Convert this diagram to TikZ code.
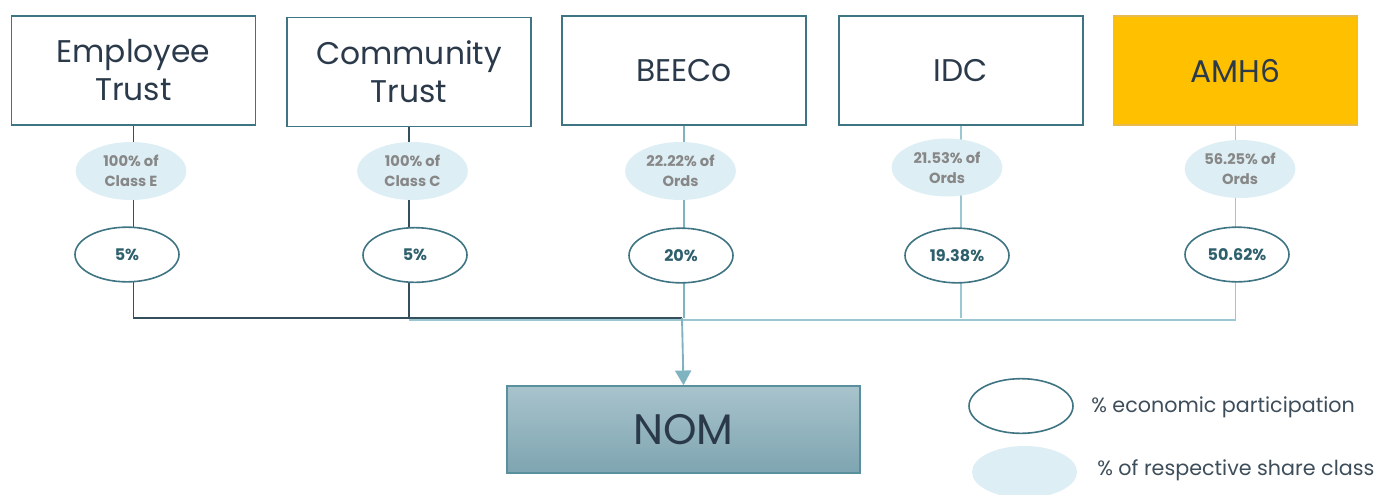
\documentclass[tikz,border=0pt]{standalone}
\usepackage{fontspec}
\setmainfont{Poppins}
\usepackage{tikz}
\usetikzlibrary{shapes.geometric}
\usetikzlibrary{arrows.meta}
\usetikzlibrary{backgrounds}
\definecolor{boxline}{HTML}{3F7482}
\definecolor{boxtext}{HTML}{2B3A4A}
\definecolor{pale}{HTML}{DDEEF4}
\definecolor{paletext}{HTML}{878787}
\definecolor{pcttext}{HTML}{2E5F6D}
\definecolor{darkline}{HTML}{34505C}
\definecolor{midline}{HTML}{7FB3C0}
\definecolor{lightline}{HTML}{9CC6D1}
\definecolor{amh}{HTML}{FFC000}
\definecolor{amhline}{HTML}{E6BA4E}
\definecolor{nomtop}{HTML}{A8C3CC}
\definecolor{nombot}{HTML}{7EA5B1}
\definecolor{nomline}{HTML}{5A909D}
\definecolor{keytext}{HTML}{3D4D5A}

\begin{document}
\begin{tikzpicture}[x=0.75pt, y=-0.75pt,
  holder/.style={draw=boxline, line width=1.2pt, minimum width=183pt, minimum height=81.75pt, align=center, text=boxtext, font=\fontsize{23.5}{28.5}\selectfont},
  share/.style={ellipse, fill=pale, minimum width=83pt, minimum height=43.5pt, inner sep=0pt, align=center, text=paletext, font=\bfseries\fontsize{11}{15}\selectfont},
  econ/.style={ellipse, draw=boxline, line width=1.2pt, fill=white, minimum width=78pt, minimum height=41pt, inner sep=0pt, text=pcttext, font=\bfseries\fontsize{12}{14}\selectfont},
  keylabel/.style={anchor=west, inner sep=0pt, text=keytext, font=\fontsize{15.5}{18}\selectfont}]

\useasboundingbox (0,0) rectangle (1381,494);

\node[holder] (emp) at (133.5,70.5) {Employee\\Trust};
\node[holder] (com) at (409,72) {Community\\Trust};
\node[holder] (bee) at (684,70.5) {BEECo};
\node[holder] (idc) at (961,70.5) {IDC};
\node[holder, fill=amh, draw=amhline] (amh) at (1235.5,70.5) {AMH6};

\node[share] (emps) at (131,171) {100\% of\\Class E};
\node[share] (coms) at (412.5,171) {100\% of\\Class C};
\node[share] (bees) at (680.5,171) {22.22\% of\\Ords};
\node[share] (idcs) at (947,167.5) {21.53\% of\\Ords};
\node[share] (amhs) at (1240,169) {56.25\% of\\Ords};

\node[econ] (empe) at (127,254.5) {5\%};
\node[econ] (come) at (415,255) {5\%};
\node[econ] (beee) at (681,255.5) {20\%};
\node[econ] (idce) at (957,255.5) {19.38\%};
\node[econ] (amhe) at (1237,254.5) {50.62\%};

\node[holder, minimum width=264.75pt, minimum height=65.25pt, top color=nomtop, bottom color=nombot, draw=nomline, font=\fontsize{32}{36}\selectfont] (nom) at (683.5,429.5) {NOM};

\coordinate (tee) at (682,318);

\begin{scope}[on background layer]
\draw[lightline, line width=1.4pt] ([yshift=-1.2pt]com.south |- tee) -- ([yshift=-1.2pt]amh.south |- tee) -- (amh.south);
\draw[lightline, line width=1.2pt] (idc.south) -- (idc.south |- tee);
\draw[midline, line width=1.2pt] (bee.south) -- (bee.south |- tee);
\draw[darkline, line width=1.2pt] (emp.south) -- (emp.south |- tee) -- (tee);
\draw[darkline, line width=1.2pt] (com.south) -- (com.south |- tee);
\end{scope}
\draw[midline, line width=1.4pt, -{Triangle[length=11pt,width=12pt]}] (tee) -- (nom.north);

\node[econ] (keyecon) at (1021,406) {};
\node[share, minimum width=78.75pt, minimum height=39pt] (keyshare) at (1024.5,472) {};
\node[keylabel] (keyecontext) at (1091,407) {\% economic participation};
\node[keylabel] (keysharetext) at (1097,470) {\% of respective share class};

\end{tikzpicture}
\end{document}
